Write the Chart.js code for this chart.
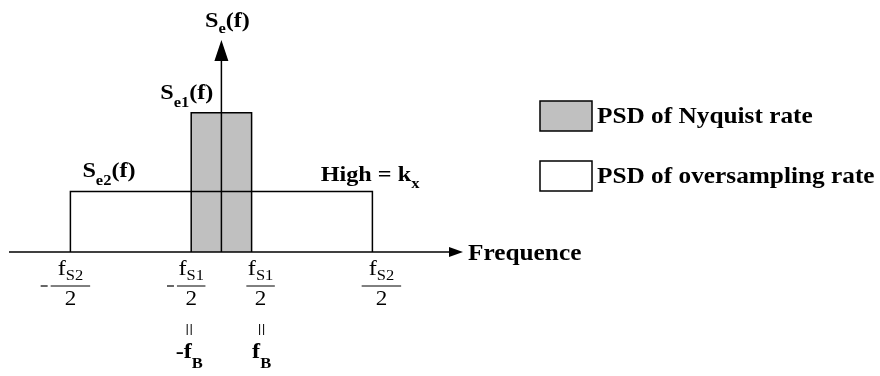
<!DOCTYPE html>
<html>
<head>
<meta charset="utf-8">
<script src="https://cdn.jsdelivr.net/npm/chart.js@4/dist/chart.umd.min.js"></script>
<style>
  html, body { margin: 0; padding: 0; background: #fff; }
  canvas { display: block; }
</style>
</head>
<body>
<canvas id="psd" width="880" height="376"></canvas>
<script>
// frequency in units of fB (fS1/2 = fB, fS2/2 = 5 fB), PSD in units of kx
const nyqX = [-1, -1, 1, 1];
const nyqY = [0, 2.3, 2.3, 0];
const ovsX = [-5, -5, 5, 5];
const ovsY = [0, 1, 1, 0];
const seriesNames = ["PSD of Nyquist rate", "PSD of oversampling rate"];
const seriesFill = ["#c0c0c0", "#ffffff"];
const tickVals = [-5, -1, 1, 5];
const tickSubs = ["S2", "S1", "S1", "S2"];
const bandVals = [-1, 1];
const bandText = ["-f", "f"];

const SERIF = '"Liberation Serif", "Times New Roman", serif';
const SX = 1.1;

function $(id) { return document.getElementById(id); }
function pts(xs, ys) { return xs.map((x, i) => ({ x: x, y: ys[i] })); }

// draws a run of text pieces (main text, subscripts) next to each other
function rich(ctx, x, y, parts, align) {
  let w = 0;
  parts.forEach(p => {
    ctx.font = (p.b ? "bold " : "") + p.s + "px " + SERIF;
    p.w = ctx.measureText(p.t).width * SX;
    w += p.w;
  });
  let cx = align === "center" ? x - w / 2 : align === "right" ? x - w : x;
  parts.forEach(p => {
    ctx.save();
    ctx.font = (p.b ? "bold " : "") + p.s + "px " + SERIF;
    ctx.textBaseline = "alphabetic";
    ctx.translate(cx, y + (p.dy || 0));
    ctx.scale(SX, 1);
    ctx.fillText(p.t, 0, 0);
    ctx.restore();
    cx += p.w;
  });
  return w;
}

function line(ctx, x1, y1, x2, y2, lw) {
  ctx.lineWidth = lw;
  ctx.beginPath();
  ctx.moveTo(x1, y1);
  ctx.lineTo(x2, y2);
  ctx.stroke();
}

const diagram = {
  id: "diagram",
  afterDatasetsDraw(chart) {
    const ctx = chart.ctx;
    const xs = chart.scales.x, ys = chart.scales.y;
    const x0 = xs.getPixelForValue(0), y0 = ys.getPixelForValue(0);
    const top = chart.chartArea.top;
    ctx.save();
    ctx.strokeStyle = "#000";
    ctx.fillStyle = "#000";

    // frequency axis with arrow
    const xEnd = chart.chartArea.right;
    line(ctx, chart.chartArea.left - 1, y0, xEnd - 12, y0, 1.5);
    ctx.beginPath();
    ctx.moveTo(xEnd, y0);
    ctx.lineTo(xEnd - 14, y0 - 5);
    ctx.lineTo(xEnd - 14, y0 + 5);
    ctx.closePath();
    ctx.fill();
    rich(ctx, xEnd + 5, y0 + 8, [{ t: "Frequence", s: 23, b: true }], "left");

    // PSD axis with arrow
    line(ctx, x0, y0, x0, top + 18, 1.5);
    ctx.beginPath();
    ctx.moveTo(x0, top);
    ctx.lineTo(x0 - 7, top + 21);
    ctx.lineTo(x0 + 7, top + 21);
    ctx.closePath();
    ctx.fill();
    rich(ctx, x0 + 6, top - 13, [
      { t: "S", s: 22, b: true }, { t: "e", s: 15, b: true, dy: 6 }, { t: "(f)", s: 22, b: true }
    ], "center");

    // curve names
    const yN = ys.getPixelForValue(nyqY[1]);
    rich(ctx, x0 - 8, yN - 14, [
      { t: "S", s: 22, b: true }, { t: "e1", s: 15, b: true, dy: 8 }, { t: "(f)", s: 22, b: true }
    ], "right");
    const yO = ys.getPixelForValue(ovsY[1]);
    rich(ctx, xs.getPixelForValue(ovsX[0]) + 12, yO - 14, [
      { t: "S", s: 22, b: true }, { t: "e2", s: 15, b: true, dy: 8 }, { t: "(f)", s: 22, b: true }
    ], "left");
    rich(ctx, xs.getPixelForValue(ovsX[3]) + 47, yO - 10, [
      { t: "High = k", s: 22, b: true }, { t: "x", s: 15, b: true, dy: 7 }
    ], "right");

    // fraction tick labels
    tickVals.forEach((v, i) => {
      const c = xs.getPixelForValue(v) + (v > 0 ? 9 : 0);
      ctx.font = "22px " + SERIF;
      const wf = ctx.measureText("f").width * SX;
      ctx.font = "15px " + SERIF;
      const ws = ctx.measureText(tickSubs[i]).width * SX;
      const wn = wf + ws;
      const bw = Math.abs(v) > 2 ? wn + 14 : wn + 3;
      rich(ctx, c - wn / 2, y0 + 23, [
        { t: "f", s: 22 }, { t: tickSubs[i], s: 15, dy: 5 }
      ], "left");
      line(ctx, c - bw / 2, y0 + 34, c + bw / 2, y0 + 34, 1);
      rich(ctx, c, y0 + 53, [{ t: "2", s: 21 }], "center");
      if (v < 0) line(ctx, c - bw / 2 - 10, y0 + 34, c - bw / 2 - 3, y0 + 34, 1.2);
    });

    // fB labels under ±fS1/2
    bandVals.forEach((v, i) => {
      const c = xs.getPixelForValue(v) + (v > 0 ? 10 : -2);
      line(ctx, c - 2, y0 + 72, c - 2, y0 + 83, 1);
      line(ctx, c + 2, y0 + 72, c + 2, y0 + 83, 1);
      rich(ctx, c, y0 + 106, [
        { t: bandText[i], s: 22, b: true }, { t: "B", s: 15, b: true, dy: 10 }
      ], "center");
    });

    // legend
    const lx = 540;
    chart.data.datasets.forEach((ds, i) => {
      const ly = 101 + i * 60;
      ctx.fillStyle = ds.backgroundColor;
      ctx.fillRect(lx, ly, 52, 30);
      ctx.lineWidth = 1.5;
      ctx.strokeRect(lx, ly, 52, 30);
      ctx.fillStyle = "#000";
      rich(ctx, lx + 57, ly + 22, [{ t: ds.label, s: 23, b: true }], "left");
    });
    ctx.restore();
  }
};

new Chart($("psd"), {
  type: "scatter",
  data: {
    datasets: [
      {
        label: seriesNames[0],
        data: pts(nyqX, nyqY),
        showLine: true,
        fill: "origin",
        backgroundColor: seriesFill[0],
        borderColor: "#000",
        borderWidth: 1.5,
        pointRadius: 0,
        tension: 0,
        clip: false,
        order: 2,
      },
      {
        label: seriesNames[1],
        data: pts(ovsX, ovsY),
        showLine: true,
        fill: false,
        backgroundColor: seriesFill[1],
        borderColor: "#000",
        borderWidth: 1.5,
        pointRadius: 0,
        tension: 0,
        clip: false,
        order: 1,
      }
    ]
  },
  options: {
    responsive: false,
    animation: false,
    layout: { padding: { left: 10, right: 417, top: 40, bottom: 124 } },
    plugins: { legend: { display: false }, tooltip: { enabled: false } },
    scales: {
      x: { type: "linear", min: -7, max: 8, display: false },
      y: { min: 0, max: 3.5, display: false }
    }
  },
  plugins: [diagram]
});
</script>
</body>
</html>
